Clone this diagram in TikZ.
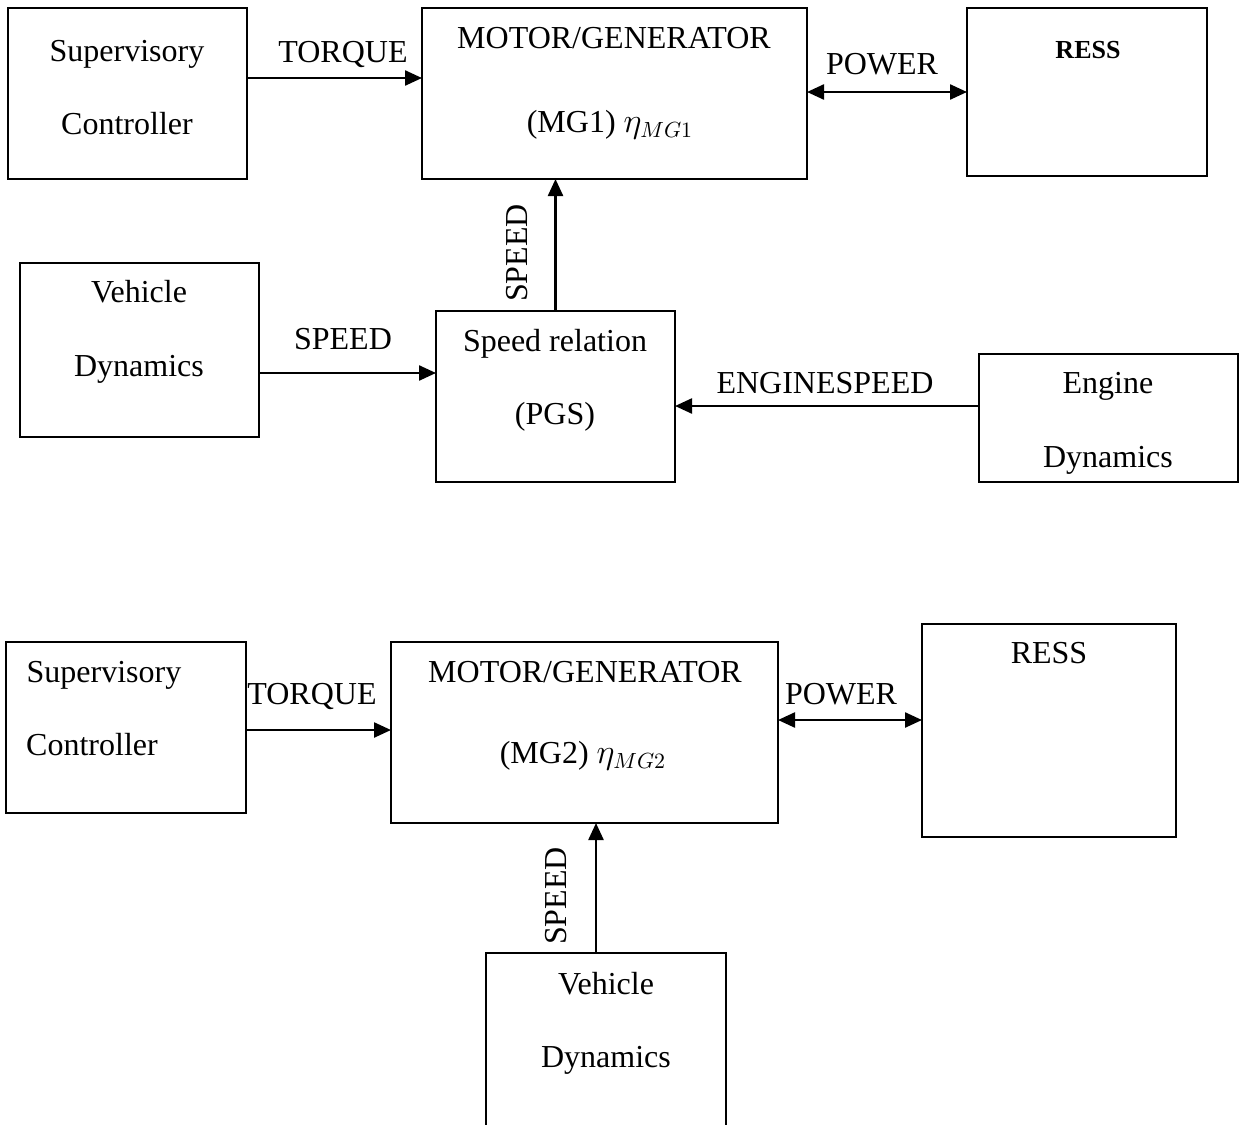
\documentclass[tikz,border=0pt]{standalone}
\usepackage{fontspec}
\setmainfont{Liberation Serif}
\usetikzlibrary{arrows.meta}
\begin{document}
\begin{tikzpicture}[x=0.5pt,y=-0.5pt,
  box/.style={draw,line width=1.2pt,inner sep=0pt,outer sep=0pt},
  txt/.style={inner sep=0pt,anchor=base,font=\fontsize{16}{19}\selectfont},
  arr/.style={line width=1.2pt,-{Triangle[length=8.5pt,width=7.5pt]}},
  darr/.style={line width=1.2pt,{Triangle[length=8.5pt,width=7.5pt]}-{Triangle[length=8.5pt,width=7.5pt]}}]
\useasboundingbox (0,0) rectangle (1241,1124);
% ---------- top diagram ----------
\node[box,minimum width=119.5pt,minimum height=85.5pt] (sc1) at (127.5,93.5) {};
\node[box,minimum width=192.5pt,minimum height=85.5pt] (mg1) at (614.5,93.5) {};
\node[box,minimum width=120pt,minimum height=84pt] (ress1) at (1087,92) {};
\node[box,minimum width=119.5pt,minimum height=87pt] (vd1) at (139.5,350) {};
\node[box,minimum width=119.5pt,minimum height=85.5pt] (pgs) at (555.5,396.5) {};
\node[box,minimum width=129.5pt,minimum height=64pt] (eng) at (1108.5,418) {};

\node[txt] (sc1a) at (127,61) {Supervisory};
\node[txt] (sc1b) at (127,134) {Controller};
\node[txt] (mg1a) at (614,48) {MOTOR/GENERATOR};
\node[txt] (mg1b) at (610,132) {(MG1) $\eta_{MG1}$};
\node[txt] (ress1a) at (1088,58) {\fontsize{13}{16}\selectfont\textbf{RESS}};
\node[txt] (vd1a) at (139,302) {Vehicle};
\node[txt] (vd1b) at (139,376) {Dynamics};
\node[txt] (pgsa) at (555,351) {Speed relation};
\node[txt] (pgsb) at (555,424) {(PGS)};
\node[txt] (enga) at (1108,393) {Engine};
\node[txt] (engb) at (1108,467) {Dynamics};

\coordinate (yt1) at (0,78);
\coordinate (yp1) at (0,92);
\coordinate (ys1) at (0,373);
\coordinate (ye1) at (0,406);
\draw[arr] (sc1.east |- yt1) -- (mg1.west |- yt1);
\draw[darr] (mg1.east |- yp1) -- (ress1.west |- yp1);
\draw[arr] (pgs.north) -- (pgs.north |- mg1.south);
\draw[arr] (vd1.east |- ys1) -- (pgs.west |- ys1);
\draw[arr] (eng.west |- ye1) -- (pgs.east |- ye1);

\node[txt] (lt1) at (343,62) {TORQUE};
\node[txt] (lp1) at (882,74) {POWER};
\node[txt] (ls1) at (343,349) {SPEED};
\node[txt] (le1) at (825,393) {ENGINESPEED};
\node[txt,anchor=center,rotate=90] (lv1) at (517,253) {SPEED};

% ---------- bottom diagram ----------
\node[box,minimum width=120pt,minimum height=85.5pt] (sc2) at (126,727.5) {};
\node[box,minimum width=193.5pt,minimum height=90.5pt] (mg2) at (584.5,732.5) {};
\node[box,minimum width=127pt,minimum height=106.5pt] (ress2) at (1049,730.5) {};
\node[box,minimum width=120pt,minimum height=98.5pt] (vd2) at (606,1051.5) {};

\node[txt] (sc2a) at (104,682) {Supervisory};
\node[txt] (sc2b) at (92,755) {Controller};
\node[txt] (mg2a) at (585,682) {MOTOR/GENERATOR};
\node[txt] (mg2b) at (583,763) {(MG2) $\eta_{MG2}$};
\node[txt] (ress2a) at (1049,663) {RESS};
\node[txt] (vd2a) at (606,994) {Vehicle};
\node[txt] (vd2b) at (606,1067) {Dynamics};

\coordinate (yt2) at (0,730);
\coordinate (yp2) at (0,720);
\coordinate (xs2) at (596,0);
\draw[arr] (sc2.east |- yt2) -- (mg2.west |- yt2);
\draw[darr] (mg2.east |- yp2) -- (ress2.west |- yp2);
\draw[arr] (vd2.north -| xs2) -- (mg2.south -| xs2);

\node[txt] (lt2) at (312,704) {TORQUE};
\node[txt] (lp2) at (841,704) {POWER};
\node[txt,anchor=center,rotate=90] (lv2) at (556,896) {SPEED};
\end{tikzpicture}
\end{document}
